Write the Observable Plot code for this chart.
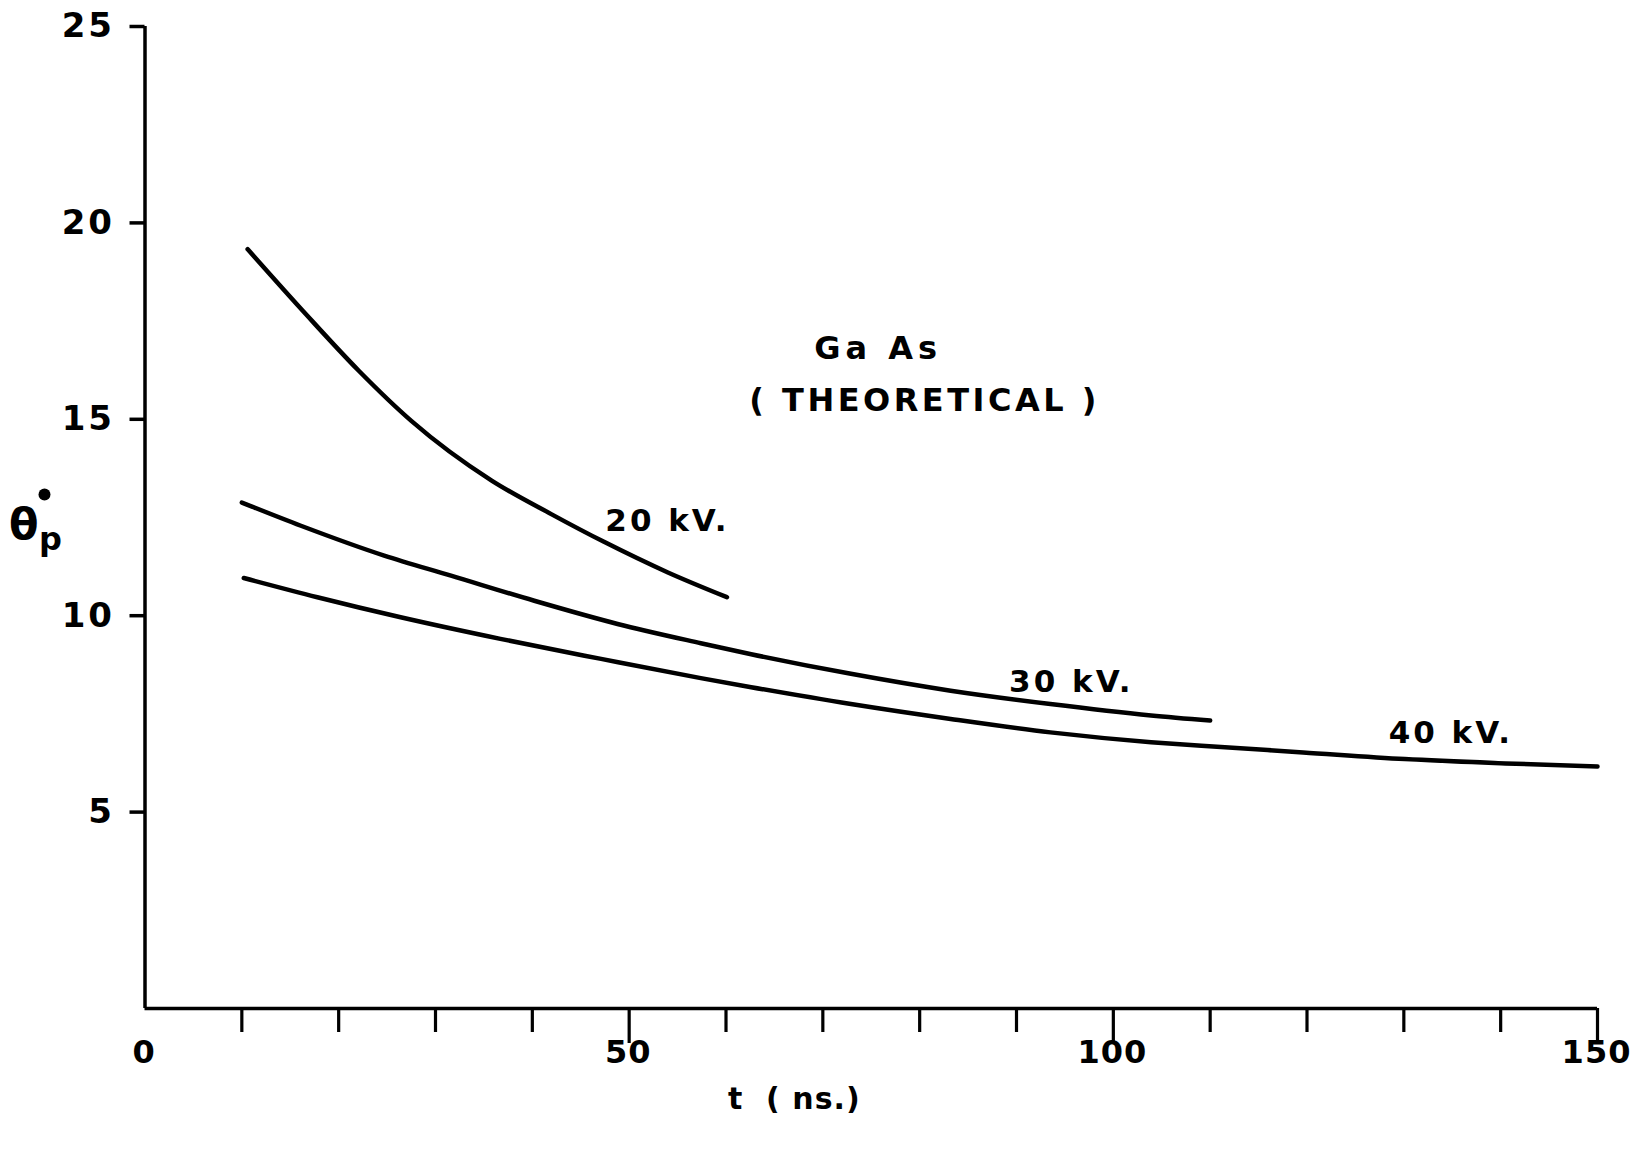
<!DOCTYPE html>
<html>
<head>
<meta charset="utf-8">
<script src="https://cdn.jsdelivr.net/npm/d3@7"></script>
<script src="https://cdn.jsdelivr.net/npm/@observablehq/plot@0.6"></script>
<style>
  body { margin: 0; background: #fff; }
  svg { display: block; }
  g[aria-label="y-axis tick label"] text { letter-spacing: 3px; }
  g[aria-label="x-axis tick label"] text { letter-spacing: 1px; }
</style>
</head>
<body>
<div id="chart"></div>
<script>
// Precession angle θp (degrees) versus time t (ns) for GaAs, theoretical curves
const t20 = [10.6, 16.6, 22.1, 27.5, 35.8, 42.0, 47.4, 54.0, 60.1];
const theta20 = [19.33, 17.68, 16.23, 14.96, 13.44, 12.58, 11.88, 11.10, 10.47];

const t30 = [10.0, 16.1, 24.7, 31.6, 40.2, 48.8, 57.4, 62.6, 72.9, 83.2, 93.5, 103.9, 110.0];
const theta30 = [12.88, 12.29, 11.53, 11.02, 10.38, 9.79, 9.30, 9.02, 8.52, 8.09, 7.75, 7.46, 7.33];

const t40 = [10.2, 17.8, 26.4, 36.7, 47.1, 57.4, 62.6, 72.9, 83.2, 93.5, 103.9, 109.1, 119.6, 130.1, 140.5, 150.0];
const theta40 = [10.96, 10.47, 9.96, 9.41, 8.90, 8.41, 8.18, 7.75, 7.37, 7.03, 6.78, 6.69, 6.52, 6.35, 6.24, 6.16];

const seriesNames = ["20 kV.", "30 kV.", "40 kV."];

const xMinorTicks = [10, 20, 30, 40, 60, 70, 80, 90, 110, 120, 130, 140];
const xMajorTicks = [50, 100, 150];
const xTickLabels = [0, 50, 100, 150];
const yTicks = [5, 10, 15, 20, 25];

// Long-format table for the line mark
const seriesData = [[t20, theta20], [t30, theta30], [t40, theta40]];
const rows = seriesData.flatMap(([ts, ths], k) =>
  ts.map((t, i) => ({series: seriesNames[k], t, theta: ths[i]}))
);

// Curve labels and the material note, anchored in data coordinates
const curveLabels = [
  {text: "20 kV.", t: 53.8, theta: 12.42},
  {text: "30 kV.", t: 95.5, theta: 8.32},
  {text: "40 kV.", t: 134.7, theta: 7.0}
];
const notes = [
  {text: "Ga As", t: 75.5, theta: 16.8},
  {text: "( THEORETICAL )", t: 80.3, theta: 15.47}
];
const xTitle = "t  ( ns.)";

const font = "'DejaVu Sans', sans-serif";

const chart = Plot.plot({
  width: 1630,
  height: 1150,
  marginLeft: 144.5,
  marginRight: 33,
  marginTop: 26,
  marginBottom: 142,
  x: {domain: [0, 150]},
  y: {domain: [0, 25]},
  style: {fontFamily: font, color: "#000", background: "#fff", fontWeight: "bold"},
  marks: [
    Plot.ruleX([0], {stroke: "#000", strokeWidth: 3.5}),
    Plot.ruleY([0], {stroke: "#000", strokeWidth: 3.5}),
    Plot.axisY({ticks: yTicks, tickSize: 15, tickPadding: 15, strokeWidth: 3.5,
      fontSize: 34, fontWeight: "bold", label: null}),
    Plot.axisX({ticks: xMinorTicks, tickSize: 24, strokeWidth: 3.2,
      tickFormat: () => "", label: null}),
    Plot.axisX({ticks: xMajorTicks, tickSize: 35, strokeWidth: 3.2,
      tickFormat: () => "", label: null}),
    Plot.axisX({ticks: xTickLabels, tickSize: 0, tickPadding: 32, dx: -1,
      fontSize: 32, fontWeight: "bold", label: null}),
    Plot.line(rows, {x: "t", y: "theta", z: "series", curve: "monotone-x",
      stroke: "#000", strokeWidth: 4.5, strokeLinecap: "round"}),
    Plot.text(curveLabels, {x: "t", y: "theta", text: "text", fontSize: 31, dx: 1.5,
      fontWeight: "bold"}),
    Plot.text(notes, {x: "t", y: "theta", text: "text", fontSize: 32, dx: 2,
      fontWeight: "bold"}),
    // axis titles
    Plot.text([xTitle], {frameAnchor: "bottom", dx: -77, dy: 100,
      fontSize: 30, fontWeight: "bold"}),
    Plot.text(["θ"], {frameAnchor: "left", textAnchor: "end", dx: -106.5, dy: 8,
      fontSize: 43, fontWeight: "bold"}),
    Plot.text(["p"], {frameAnchor: "left", textAnchor: "start", dx: -106, dy: 22,
      fontSize: 32, fontWeight: "bold"}),
    Plot.dot([0], {frameAnchor: "left", dx: -100.5, dy: -23, r: 6, fill: "#000", stroke: null})
  ]
});

// Wide, hand-lettered spacing for the annotations
const spacing = new Map([
  ...curveLabels.map((d) => [d.text, "3px"]),
  [notes[0].text, "5px"],
  [notes[1].text, "3.5px"],
  [xTitle, "1px"]
]);
d3.select(chart).selectAll("text").each(function () {
  const s = spacing.get(this.textContent);
  if (s) this.style.letterSpacing = s;
});

document.getElementById("chart").append(chart);
</script>
</body>
</html>
